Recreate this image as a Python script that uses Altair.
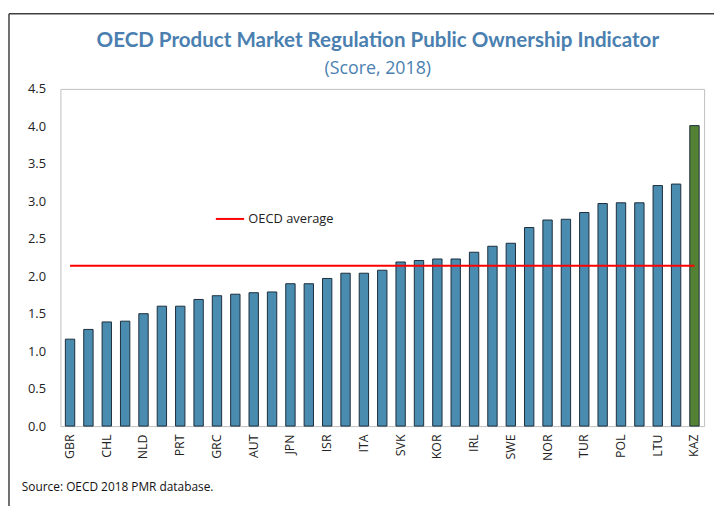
import altair as alt
import pandas as pd

countries = ["GBR", "AUS", "CHL", "DNK", "NLD", "ESP", "PRT", "MEX", "GRC", "DEU",
             "AUT", "CAN", "JPN", "BEL", "ISR", "NZL", "ITA", "EST", "SVK", "CZE",
             "KOR", "LUX", "IRL", "USA", "SWE", "FRA", "NOR", "LVA", "TUR", "FIN",
             "POL", "HUN", "LTU", "SVN", "KAZ"]
scores = [1.16, 1.29, 1.39, 1.40, 1.50, 1.60, 1.60, 1.69, 1.74, 1.76,
          1.78, 1.79, 1.90, 1.90, 1.97, 2.04, 2.04, 2.08, 2.19, 2.21,
          2.23, 2.23, 2.32, 2.40, 2.44, 2.65, 2.75, 2.76, 2.85, 2.97,
          2.98, 2.98, 3.21, 3.23, 4.01]
oecd_average = 2.14
highlight = "KAZ"
shown_labels = countries[::2]
y_ticks = [0, 0.5, 1, 1.5, 2, 2.5, 3, 3.5, 4, 4.5]
title_text = "OECD Product Market Regulation Public Ownership Indicator"
subtitle_text = "(Score, 2018)"
source_text = "Source: OECD 2018 PMR database."

df = pd.DataFrame({"country": countries, "score": scores})
df["avg"] = oecd_average
df["series"] = "OECD average"

W, H = 651, 341
BLUE = "#4a8bb0"
GREEN = "#548235"
TITLE_COLOR = "#4a7fb0"
FONT = "Open Sans"

label_expr = "indexof([" + ",".join("'%s'" % c for c in shown_labels) + "], datum.value) >= 0 ? datum.value : ''"

x_axis = alt.Axis(labelAngle=270, labelExpr=label_expr, ticks=False,
                  labelPadding=8, labelFontSize=12.5, labelColor="#222222",
                  labelFont=FONT, domain=False, labelOverlap=False)
y_axis = alt.Axis(values=y_ticks, format=".1f", grid=False, ticks=False, domain=False,
                  labelPadding=15, labelFontSize=13, labelColor="#222222", labelFont=FONT,
                  labelOverlap=False)
x_scale = alt.Scale(paddingInner=0.49, paddingOuter=0.27)
y_scale = alt.Scale(domain=[0, 4.5], nice=False)

base = alt.Chart(df)

bars = base.mark_bar(stroke="#1c2e3c", strokeWidth=1).encode(
    x=alt.X("country:N", sort=None, title=None, scale=x_scale, axis=x_axis),
    y=alt.Y("score:Q", scale=y_scale, title=None, axis=y_axis),
    fill=alt.condition(alt.datum.country == highlight, alt.value(GREEN), alt.value(BLUE)),
)

avg_line = base.mark_line(strokeWidth=2).encode(
    x=alt.X("country:N", sort=None, title=None, scale=x_scale, axis=x_axis),
    y=alt.Y("avg:Q", scale=y_scale, title=None, axis=y_axis),
    color=alt.Color("series:N", title=None,
                    scale=alt.Scale(domain=["OECD average"], range=["#ff0000"]),
                    legend=alt.Legend(orient="none", legendX=156, legendY=116,
                                      symbolType="stroke", symbolSize=820,
                                      symbolStrokeWidth=2, labelFontSize=13,
                                      labelColor="#222222", labelFont=FONT,
                                      labelOffset=3, padding=0)),
)

one = pd.DataFrame({"k": [0]})
frame_left = alt.Chart(one).mark_rule(color="#404040", strokeWidth=1.5).encode(
    x=alt.value(-52), y=alt.value(-76), y2=alt.value(H + 90))
frame_top = alt.Chart(one).mark_rule(color="#404040", strokeWidth=1.5).encode(
    x=alt.value(-52), x2=alt.value(W + 20), y=alt.value(-76))
title = alt.Chart(one).mark_text(
    text=title_text, align="center", baseline="alphabetic",
    fontSize=20.8, font="Lato", fontWeight="bold", color=TITLE_COLOR).encode(
    x=alt.value(321), y=alt.value(-42))
subtitle = alt.Chart(one).mark_text(
    text=subtitle_text, align="center", baseline="alphabetic",
    fontSize=18, font=FONT, color=TITLE_COLOR).encode(
    x=alt.value(321), y=alt.value(-15.5))
source = alt.Chart(one).mark_text(
    text=source_text, align="left", baseline="alphabetic",
    fontSize=12, font=FONT, color="#111111").encode(
    x=alt.value(-39), y=alt.value(407))

chart = alt.layer(bars, avg_line, frame_left, frame_top, title, subtitle, source).properties(
    width=W, height=H,
    padding={"left": 53, "top": 79, "right": 10, "bottom": 78},
    autosize=alt.AutoSizeParams(type="none"),
).configure_view(stroke="#bfbfbf", strokeWidth=1)

chart.save("out.html", embed_options={"renderer": "svg", "actions": False})
